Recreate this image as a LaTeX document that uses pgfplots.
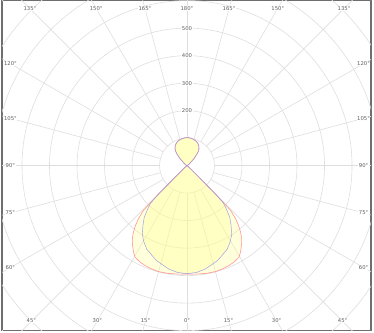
\documentclass[border=0pt]{standalone}
\usepackage{fontspec}
\setmainfont{DejaVu Sans}
\usepackage{pgfplots}
\usepackage{pgfplotstable}
\pgfplotsset{compat=1.18}
\definecolor{gridc}{RGB}{222,222,222}
\definecolor{labc}{RGB}{95,95,95}
\definecolor{blueline}{RGB}{150,150,230}
\definecolor{redline}{RGB}{255,150,150}
\definecolor{fillc}{RGB}{255,255,140}
\definecolor{framec}{RGB}{110,110,110}
\tikzset{lab/.style={font=\fontsize{5.3}{6}\selectfont, text=labc, fill=white, inner sep=0.5pt}}
% gamma (0..360, 0 = down), intensity
\pgfplotstableread{
a I
0 393
5 390
10 382
17.7 363
20 355
25.8 337
30 316
33.2 297
36.4 270
39.6 244
42 215
44.2 190
45 150
45.3 112
46 44
50 8
60 1
90 0
100 0.5
110 2
120 5
125 9
130 15
135 36
139.4 57
142 68
145 76
150 85
155 91
160 95
165 98
170 100
175 101.5
180 102
185 101.5
190 100
195 98
200 95
205 91
210 85
215 76
218 68
220.6 57
225 36
230 15
235 9
240 5
250 2
260 0.5
270 0
300 1
310 8
314 44
314.7 112
315 150
315.8 190
318 215
320.4 244
323.6 270
326.8 297
330 316
334.2 337
340 355
342.3 363
350 382
355 390
360 393
}\blue
\pgfplotstableread{
a I
0 394
5 396
10 398
15 399
19 397
22.8 394
26 390
29.6 383
32 368
34.9 347
37 330
38.8 311
40.5 290
42.4 263
44.2 228
44.6 190
45 150
45.3 112
46 44
50 8
60 1
90 0
100 0.5
110 2
120 5
125 9
130 15
135 36
139.4 57
142 68
145 76
150 85
155 91
160 95
165 98
170 100
175 101.5
180 102
185 101.5
190 100
195 98
200 95
205 91
210 85
215 76
218 68
220.6 57
225 36
230 15
235 9
240 5
250 2
260 0.5
270 0
300 1
310 8
314 44
314.7 112
315 150
315.4 190
315.8 228
317.6 263
319.5 290
321.2 311
323 330
325.1 347
328 368
330.4 383
334 390
337.2 394
341 397
345 399
350 398
355 396
360 394
}\red
\begin{document}
\begin{tikzpicture}
\begin{axis}[
  x=0.275pt, y=0.275pt,
  xmin=-672.7, xmax=669, ymin=-600, ymax=600,
  xtick=\empty, ytick=\empty,
  axis line style={draw=framec, line width=1.2pt},
  clip=true,
]
% grid circles
\pgfplotsinvokeforeach{1,...,9}{
  \draw[gridc, line width=0.6pt] (axis cs:0,0) circle[radius=#1*100];
}
% radial lines
\pgfplotsinvokeforeach{0,15,...,345}{
  \addplot[gridc, line width=0.6pt, data cs=polar, forget plot] coordinates {(#1,100) (#1,1000)};
}
% fills
\addplot[draw=none, fill=fillc, fill opacity=0.3, data cs=polar, forget plot]
  table[x expr=\thisrow{a}-90, y=I] {\red};
\addplot[draw=none, fill=fillc, fill opacity=0.3, data cs=polar, forget plot]
  table[x expr=\thisrow{a}-90, y=I] {\blue};
% outlines
\addplot[redline, line width=0.6pt, data cs=polar, forget plot]
  table[x expr=\thisrow{a}-90, y=I] {\red};
\addplot[blueline, line width=0.55pt, opacity=0.85, data cs=polar, forget plot]
  table[x expr=\thisrow{a}-90, y=I] {\blue};
% angle labels
\node[lab] at (axis cs:0,-564) {0°};
\node[lab] at (axis cs:151,-564) {15°};
\node[lab] at (axis cs:-151,-564) {15°};
\node[lab] at (axis cs:326,-564) {30°};
\node[lab] at (axis cs:-326,-564) {30°};
\node[lab] at (axis cs:566,-564) {45°};
\node[lab] at (axis cs:-566,-564) {45°};
\node[lab] at (axis cs:642,-371) {60°};
\node[lab] at (axis cs:-642,-371) {60°};
\node[lab] at (axis cs:642,-172) {75°};
\node[lab] at (axis cs:-642,-172) {75°};
\node[lab] at (axis cs:642,0) {90°};
\node[lab] at (axis cs:-642,0) {90°};
\node[lab] at (axis cs:642,172) {105°};
\node[lab] at (axis cs:-642,172) {105°};
\node[lab] at (axis cs:642,371) {120°};
\node[lab] at (axis cs:-642,371) {120°};
\node[lab] at (axis cs:571,571) {135°};
\node[lab] at (axis cs:-571,571) {135°};
\node[lab] at (axis cs:330,571) {150°};
\node[lab] at (axis cs:-330,571) {150°};
\node[lab] at (axis cs:153,571) {165°};
\node[lab] at (axis cs:-153,571) {165°};
\node[lab] at (axis cs:0,571) {180°};
% radial labels
\node[lab] at (axis cs:0,200) {200};
\node[lab] at (axis cs:0,300) {300};
\node[lab] at (axis cs:0,400) {400};
\node[lab] at (axis cs:0,500) {500};
\end{axis}
\path ([shift={(-2pt,-2pt)}]current axis.south west) rectangle ([shift={(3pt,0pt)}]current axis.north east);
\end{tikzpicture}
\end{document}
